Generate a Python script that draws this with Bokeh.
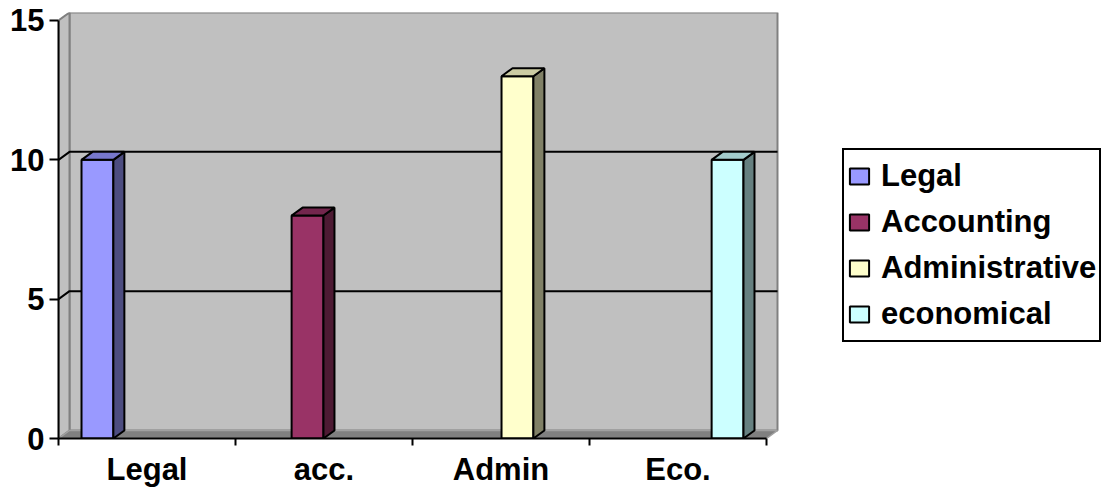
from bokeh.plotting import figure
from bokeh.models import Legend, LegendItem, FixedTicker, Range1d
from bokeh.embed import file_html
from bokeh.resources import INLINE

# ---- data ----
categories = ["Legal", "acc.", "Admin", "Eco."]
series_names = ["Legal", "Accounting", "Administrative", "economical"]
legal = [10, 0, 0, 0]
accounting = [0, 8, 0, 0]
administrative = [0, 0, 13, 0]
economical = [0, 0, 0, 10]
y_ticks = [0, 5, 10, 15]

series_values = [legal, accounting, administrative, economical]

# ---- styles ----
front_colors = ["#9999FF", "#993366", "#FFFFCC", "#CCFFFF"]
top_colors = ["#7777CC", "#73264D", "#CCCCA3", "#A3CCCC"]
side_colors = ["#4D4D80", "#4D1A33", "#808066", "#668080"]

W, H = 1103, 490
LEFT, TOP, BOTTOM = 58, 12, 438   # frame edges in page pixels
XPX = 177.0   # pixels per category
YPX = 27.9    # pixels per value unit
DX = 11.0 / XPX
DY = 8.0 / YPX
BAR_W = 0.18
OFFSETS = [-0.28, -0.093, 0.093, 0.28]
YMAX = 15
NCAT = len(categories)
FONT = "Liberation Sans"

p = figure(width=W, height=H,
           x_range=Range1d(0, (W - LEFT) / XPX), y_range=Range1d(0, YMAX + DY),
           output_backend="svg", toolbar_location=None,
           min_border_left=LEFT, min_border_right=0,
           min_border_top=TOP, min_border_bottom=H - BOTTOM)
p.outline_line_color = None
p.background_fill_color = "white"
p.border_fill_color = "white"
p.xgrid.visible = False
p.ygrid.visible = False

# back wall
p.quad(left=DX, right=NCAT + DX, bottom=DY, top=YMAX + DY,
       fill_color="#C0C0C0", line_color="#808080", line_width=2)
# left wall
p.patch([0, DX, DX, 0], [0, DY, YMAX + DY, YMAX],
        fill_color="#C0C0C0", line_color="#808080", line_width=2)
# floor
p.patch([0, NCAT, NCAT + DX, DX], [0, 0, DY, DY],
        fill_color="#808080", line_color="#A0A0A0", line_width=1.5)

# gridlines
grid_vals = [g for g in y_ticks if 0 < g < YMAX]
p.multi_line(xs=[[0, DX, NCAT + DX] for g in grid_vals],
             ys=[[g, g + DY, g + DY] for g in grid_vals],
             line_color="black", line_width=2)

# bars
items = []
for i, (name, vals) in enumerate(zip(series_names, series_values)):
    xs = [j + 0.5 + OFFSETS[i] for j, v in enumerate(vals) if v > 0]
    vs = [v for v in vals if v > 0]
    r = p.vbar(x=xs, top=vs, bottom=0, width=BAR_W,
               fill_color=front_colors[i], line_color="black", line_width=2)
    rx = [x + BAR_W / 2 for x in xs]
    lx = [x - BAR_W / 2 for x in xs]
    p.patches(xs=[[a, a + DX, a + DX, a] for a in rx],
              ys=[[0, DY, v + DY, v] for v in vs],
              fill_color=side_colors[i], line_color="black", line_width=2)
    p.patches(xs=[[l, l + DX, a + DX, a] for l, a in zip(lx, rx)],
              ys=[[v, v + DY, v + DY, v] for v in vs],
              fill_color=top_colors[i], line_color="black", line_width=2)
    items.append(LegendItem(label=name, renderers=[r]))

# y axis
ya = p.yaxis[0]
ya.ticker = FixedTicker(ticks=y_ticks, minor_ticks=[])
ya.bounds = (0, YMAX)
ya.axis_line_color = "black"
ya.axis_line_width = 2
ya.major_tick_line_color = "black"
ya.major_tick_line_width = 2
ya.major_tick_out = 9
ya.major_tick_in = 0
ya.minor_tick_out = 0
ya.major_label_standoff = 5
ya.major_label_text_font = FONT
ya.major_label_text_font_style = "bold"
ya.major_label_text_font_size = "31px"
ya.major_label_text_color = "black"

# x axis
xa = p.xaxis[0]
centers = [j + 0.5 for j in range(NCAT)]
xa.ticker = FixedTicker(ticks=centers, minor_ticks=list(range(NCAT + 1)))
xa.major_label_overrides = {c: lab for c, lab in zip(centers, categories)}
xa.bounds = (0, NCAT)
xa.axis_line_color = "black"
xa.axis_line_width = 2
xa.major_tick_out = 0
xa.major_tick_in = 0
xa.minor_tick_out = 7
xa.minor_tick_in = 0
xa.minor_tick_line_color = "black"
xa.minor_tick_line_width = 2
xa.major_label_standoff = 6
xa.major_label_text_font = FONT
xa.major_label_text_font_style = "bold"
xa.major_label_text_font_size = "31px"
xa.major_label_text_color = "black"

legend = Legend(items=items, location=(842 - LEFT, BOTTOM - 342), orientation="vertical")
legend.label_text_font = FONT
legend.label_text_font_style = "bold"
legend.label_text_font_size = "31px"
legend.label_text_color = "black"
legend.label_height = 46
legend.glyph_height = 20
legend.glyph_width = 24
legend.label_standoff = 10
legend.spacing = 0
legend.padding = 3
legend.margin = 0
legend.border_line_color = "black"
legend.border_line_alpha = 1.0
legend.border_line_width = 2
legend.background_fill_color = "white"
legend.background_fill_alpha = 1.0
p.add_layout(legend, "center")

open("out.html", "w").write(file_html(p, INLINE))
